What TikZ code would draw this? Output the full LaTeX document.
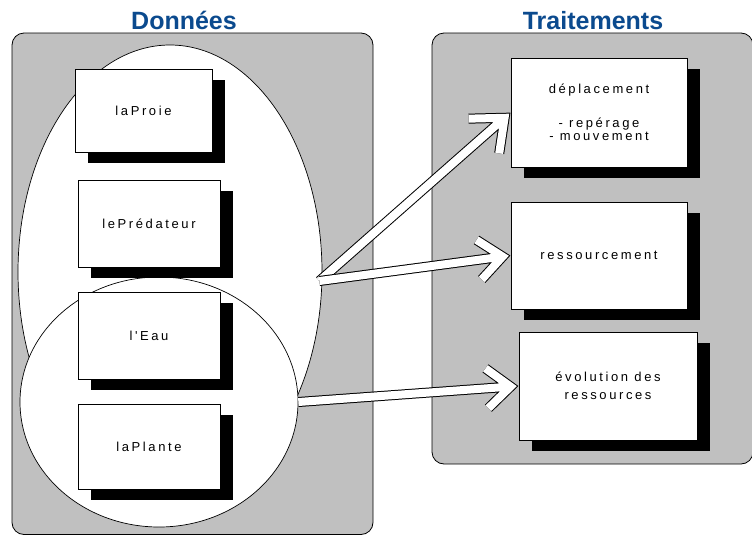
\documentclass[tikz,border=0pt]{standalone}
\usepackage{fontspec}
\setmainfont{Liberation Sans}
\newfontfamily\boxfont[LetterSpace=20]{Liberation Sans}
\usetikzlibrary{shapes.geometric,shadows,calc}
\definecolor{panelgray}{HTML}{C0C0C0}
\definecolor{headblue}{HTML}{0B4A8E}
\newcommand\blkarrow[3]{%
  \foreach \c/\w in {black/10pt,white/8pt}{%
    \draw[line width=\w, draw=\c, line join=miter, miter limit=10]
      (#1) -- ($(#2)!6pt!(#1)$)
      ($(#2)!#3!40:(#1)$) -- (#2) -- ($(#2)!#3!-40:(#1)$);
  }%
}
\begin{document}
\begin{tikzpicture}[x=1pt,y=-1pt,
  panel/.style={draw=black, fill=panelgray, line width=0.8pt, rounded corners=12pt},
  grp/.style={draw=black, fill=white, ellipse, inner sep=0pt, line width=0.7pt},
  obj/.style={draw=black, fill=white, line width=0.8pt, inner sep=0pt, align=center,
    font=\boxfont\fontsize{13}{13.5}\selectfont,
    general shadow={fill=black, shadow xshift=13pt, shadow yshift=-11pt}},
  head/.style={font=\fontsize{25}{30}\selectfont\bfseries, text=headblue, anchor=base}]
\useasboundingbox (0,0) rectangle (752,536);

% panels
\draw[panel] (12,33) rectangle (373,534.5);
\draw[panel] (432,33) rectangle (753,464);

% headers
\node[head] (hd1) at (184,29) {Données};
\node[head] (hd2) at (593,29) {Traitements};

% groupings
\node[grp, minimum width=304pt, minimum height=454pt] (grp1) at (170,272) {};
\node[grp, minimum width=278pt, minimum height=250pt] (grp2) at (159,402) {};

% right boxes
\node[obj, minimum width=176pt, minimum height=109pt] (dep) at (599,112.5)
  {déplacement\\[20.5pt]- repérage\\- mouvement};
\node[obj, minimum width=176pt, minimum height=107pt] (res) at (599,255.5) {ressourcement};
\node[obj, minimum width=178pt, minimum height=108pt] (evo) at (608,386)
  {évolution des\\[4.5pt]ressources};

% arrows
\coordinate (a1s) at ($(grp1.east)+(-3,9)$);
\coordinate (a1t) at ($(dep.west)!8pt!(a1s)$);
\coordinate (a3s) at (grp2.east);
\coordinate (a3t) at ($(evo.west)!8pt!(a3s)$);
\coordinate (a2t) at ($(res.west)!8pt!(a1s)$);
\blkarrow{a1s}{a1t}{36pt}
\blkarrow{a1s}{a2t}{31pt}
\blkarrow{a3s}{a3t}{31pt}

% left boxes
\node[obj, minimum width=137pt, minimum height=83pt] (proie) at (143.5,110.5) {laProie};
\node[obj, minimum width=142pt, minimum height=87pt] (pred) at (149,223.5) {lePrédateur};
\node[obj, minimum width=142pt, minimum height=87pt] (eau) at (149,335.5) {l'Eau};
\node[obj, minimum width=142pt, minimum height=85pt] (plante) at (149,446.5) {laPlante};
\end{tikzpicture}
\end{document}
